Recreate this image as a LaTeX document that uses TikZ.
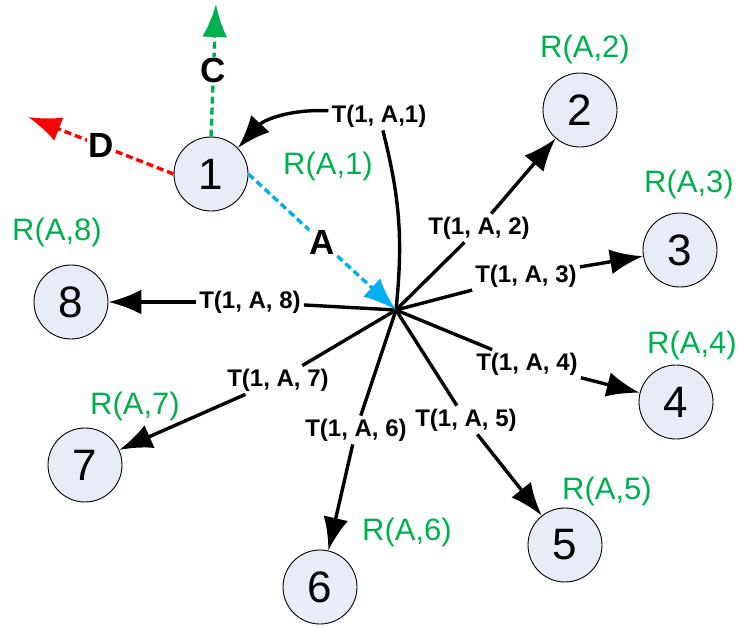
\documentclass[tikz,border=0pt]{standalone}
\usepackage{fontspec}
\setmainfont{Liberation Sans}
\usetikzlibrary{arrows.meta}
\definecolor{nodefill}{RGB}{231,236,247}
\definecolor{rgreen}{RGB}{0,176,80}
\definecolor{ablue}{RGB}{0,176,240}
\definecolor{dred}{RGB}{255,0,0}
\tikzset{
    vertex/.style = {
        circle,
        draw,
        line width=0.9pt,
        fill=nodefill,
        minimum size=74pt,
        inner sep=0pt,
        font=\fontsize{44}{44}\selectfont,
    },
    rlabel/.style = {text=rgreen, font=\fontsize{31}{31}\selectfont},
    tlabel/.style = {inner sep=3pt, font=\bfseries\fontsize{24}{24}\selectfont},
    flabel/.style = {fill=white, inner sep=1pt, text=black, font=\bfseries\fontsize{35}{35}\selectfont},
    spoke/.style = {line width=3.4pt},
    edge/.style = {line width=3.4pt, -{Latex[length=33pt,width=25pt]}},
    dline/.style = {line width=3.4pt, dash pattern=on 7pt off 4pt, -{Latex[length=33pt,width=25pt]}}
}
\begin{document}
\begin{tikzpicture}[x=1pt, y=-1pt]
  \useasboundingbox (0,0) rectangle (753,627);

  % Define all vertices using the consistent 'vertex' style
  \node[vertex] (n1) at (211,174) {1};
  \node[vertex] (n2) at (580,110) {2};
  \node[vertex] (n3) at (680,250) {3};
  \node[vertex] (n4) at (676,402) {4};
  \node[vertex] (n5) at (565,545) {5};
  \node[vertex] (n6) at (320,587) {6};
  \node[vertex] (n7) at (85,465)  {7};
  \node[vertex] (n8) at (71,302)  {8};

  % Green reception labels
  \node[rlabel] (r1) at (328,166) {R(A,1)};
  \node[rlabel] (r2) at (585,49)  {R(A,2)};
  \node[rlabel] (r3) at (689,184) {R(A,3)};
  \node[rlabel] (r4) at (692,345) {R(A,4)};
  \node[rlabel] (r5) at (607,491) {R(A,5)};
  \node[rlabel] (r6) at (407,532) {R(A,6)};
  \node[rlabel] (r7) at (135,406) {R(A,7)};
  \node[rlabel] (r8) at (57,232)  {R(A,8)};

  % Hub and transmission labels
  \coordinate (hub) at (396,310);
  \node[tlabel] (t1) at (379,116) {T(1, A,1)};
  \node[tlabel] (t2) at (479,228) {T(1, A, 2)};
  \node[tlabel] (t3) at (526,276) {T(1, A, 3)};
  \node[tlabel] (t4) at (527,364) {T(1, A, 4)};
  \node[tlabel] (t5) at (466,420) {T(1, A, 5)};
  \node[tlabel] (t6) at (356,430) {T(1, A, 6)};
  \node[tlabel] (t7) at (278,380) {T(1, A, 7)};
  \node[tlabel] (t8) at (250,302) {T(1, A, 8)};

  % Spokes from the hub to the labels
  \draw[spoke] (hub) to[bend right=10] (t1);
  \draw[spoke] (hub) -- (t2);
  \draw[spoke] (hub) -- (t3);
  \draw[spoke] (hub) -- (t4);
  \draw[spoke] (hub) -- (t5);
  \draw[spoke] (hub) -- (t6);
  \draw[spoke] (hub) -- (t7);
  \draw[spoke] (hub) -- (t8);

  % Arrows from the labels to the vertices
  \draw[edge] (t1) to[bend right=25] (n1);
  \draw[edge] (t2) -- (n2);
  \draw[edge] (t3) -- (n3);
  \draw[edge] (t4) -- (n4);
  \draw[edge] (t5) -- (n5);
  \draw[edge] (t6) -- (n6);
  \draw[edge] (t7) -- (n7);
  \draw[edge] (t8) -- (n8);

  % Dashed directions out of vertex 1
  \coordinate (cend) at (216,4);
  \coordinate (dend) at (28,117);
  \draw[dline, ablue] (n1.east) -- node[flabel] {A} (hub);
  \draw[dline, rgreen] (n1.north) -- node[flabel] {C} (cend);
  \draw[dline, dred] (n1.west) -- node[flabel] {D} (dend);

\end{tikzpicture}
\end{document}
